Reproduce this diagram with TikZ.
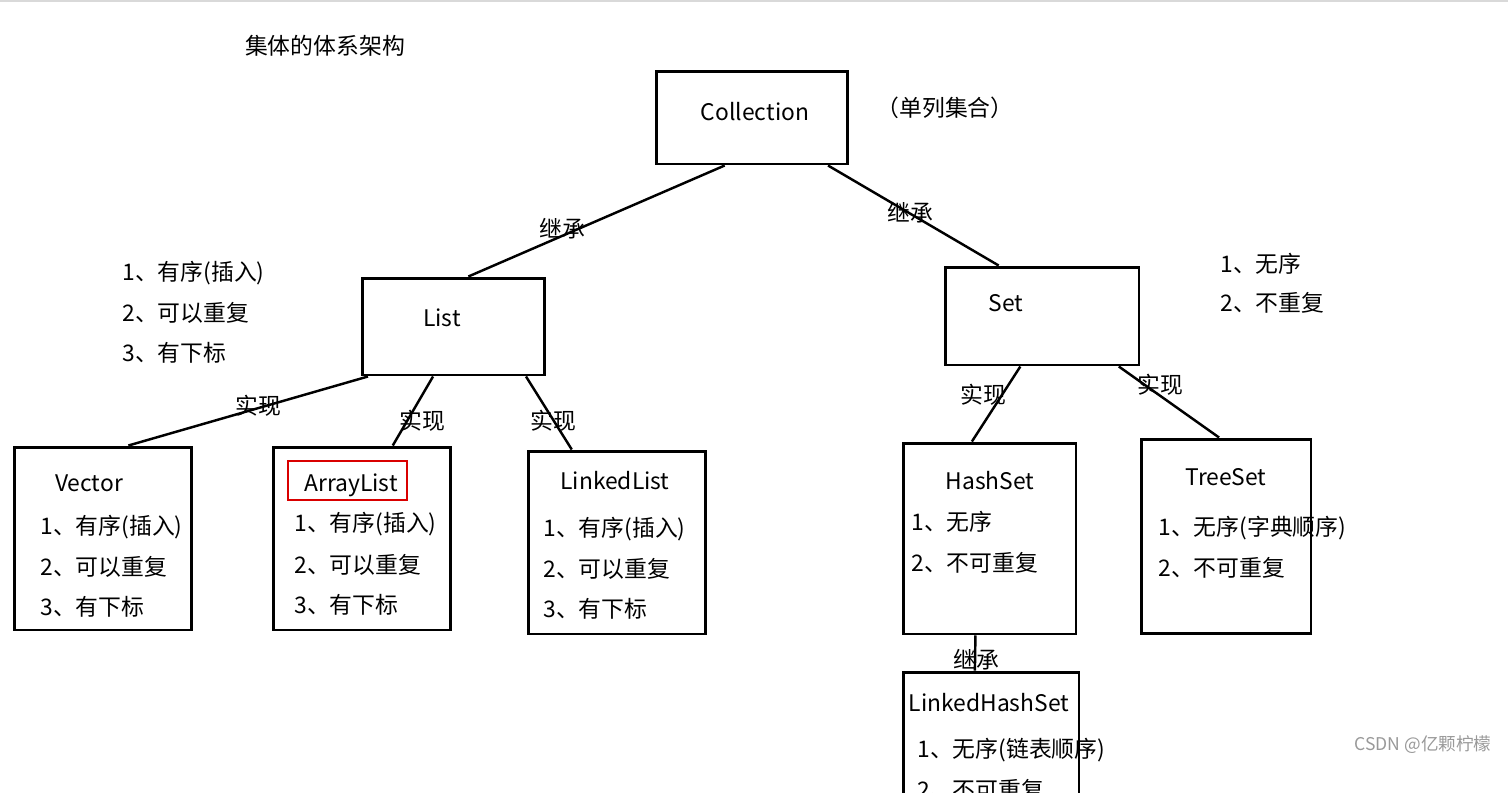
\documentclass[tikz,border=0pt]{standalone}
\usepackage{fontspec}
\setmainfont{Noto Sans CJK SC}
\usetikzlibrary{calc}

\begin{document}
\begin{tikzpicture}[x=0.02cm,y=-0.02cm]
\tikzset{box/.style={draw,line width=1.7pt,inner sep=0pt},
  link/.style={line width=1.4pt},
  txt/.style={font=\fontsize{13pt}{15pt}\selectfont,inner sep=0pt},
  item/.style={txt,anchor=west}}
\useasboundingbox (0,0) rectangle (1508,792);
\clip (0,0) rectangle (1508,792);
\draw[gray!30,line width=1.2pt] (0,1) -- (1508,1);
\node[txt] (title) at (325,46) {集体的体系架构};
\node[box,minimum width=3.84cm,minimum height=1.86cm] (coll) at (752,117.5) {};
\node[txt] at (755,112) {Collection};
\node[txt] (single) at (945,108) {（单列集合）};
\node[box,minimum width=3.66cm,minimum height=1.94cm] (list) at (453.5,326.5) {};
\node[txt] at (442,318) {List};
\node[box,minimum width=3.88cm,minimum height=1.96cm] (set) at (1042,316) {};
\node[txt] at (1006,303) {Set};
\node[item] (l1) at (122,273) {1、有序(插入)};
\node[item] (l2) at (122,313) {2、可以重复};
\node[item] (l3) at (122,353) {3、有下标};
\node[item] (s1) at (1220,264) {1、无序};
\node[item] (s2) at (1220,303) {2、不重复};
\node[box,minimum width=3.56cm,minimum height=3.66cm] (vec) at (103,538.5) {};
\node[txt] at (89,483) {Vector};
\node[item] at (40,527) {1、有序(插入)};
\node[item] at (40,567) {2、可以重复};
\node[item] at (40,607) {3、有下标};
\node[box,minimum width=3.56cm,minimum height=3.66cm] (arr) at (362,538.5) {};
\node[draw=red!85!black,line width=1.1pt,minimum width=2.38cm,minimum height=0.78cm] (mark) at (347.5,480.5) {};
\node[txt] at (351,485) {ArrayList};
\node[item] at (294,524) {1、有序(插入)};
\node[item] at (294,565) {2、可以重复};
\node[item] at (294,605) {3、有下标};
\node[box,minimum width=3.56cm,minimum height=3.66cm] (lnk) at (617,542.5) {};
\node[txt] at (615,481) {LinkedList};
\node[item] at (543,529) {1、有序(插入)};
\node[item] at (543,569) {2、可以重复};
\node[item] at (543,609) {3、有下标};
\node[box,minimum width=3.46cm,minimum height=3.82cm] (hash) at (989.5,538.5) {};
\node[txt] at (990,481) {HashSet};
\node[item] at (911,522) {1、无序};
\node[item] at (911,563) {2、不可重复};
\node[box,minimum width=3.4cm,minimum height=3.9cm] (tree) at (1226,536.5) {};
\node[txt] at (1226,477) {TreeSet};
\node[item] at (1158,528) {1、无序(字典顺序)};
\node[item] at (1158,568) {2、不可重复};
\node[box,minimum width=3.52cm,minimum height=2.96cm] (lhs) at (991,746) {};
\node[txt] at (989,703) {LinkedHashSet};
\node[item] at (917,750) {1、无序(链表顺序)};
\node[item] at (917,790) {2、不可重复};
\foreach \a/\p/\b/\q in {coll/.36/list/.58, coll/.89/set/.28, list/.04/vec/.64,
  list/.39/arr/.67, list/.89/lnk/.25, set/.39/hash/.40, set/.89/tree/.46, hash/.42/lhs/.41}
  \draw[link] ($(\a.south west)!\p!(\a.south east)$) -- ($(\b.north west)!\q!(\b.north east)$);
\node[txt] at (562,229) {继承};
\node[txt] at (910,213) {继承};
\node[txt] at (258,406) {实现};
\node[txt] at (422,421) {实现};
\node[txt] at (553,421) {实现};
\node[txt] at (983,395) {实现};
\node[txt] at (1160,385) {实现};
\node[txt] at (976,660) {继承};
\node[txt,font=\fontsize{10pt}{12pt}\selectfont,text=gray!80] (wm) at (1423,745) {CSDN @亿颗柠檬};
\end{tikzpicture}
\end{document}
